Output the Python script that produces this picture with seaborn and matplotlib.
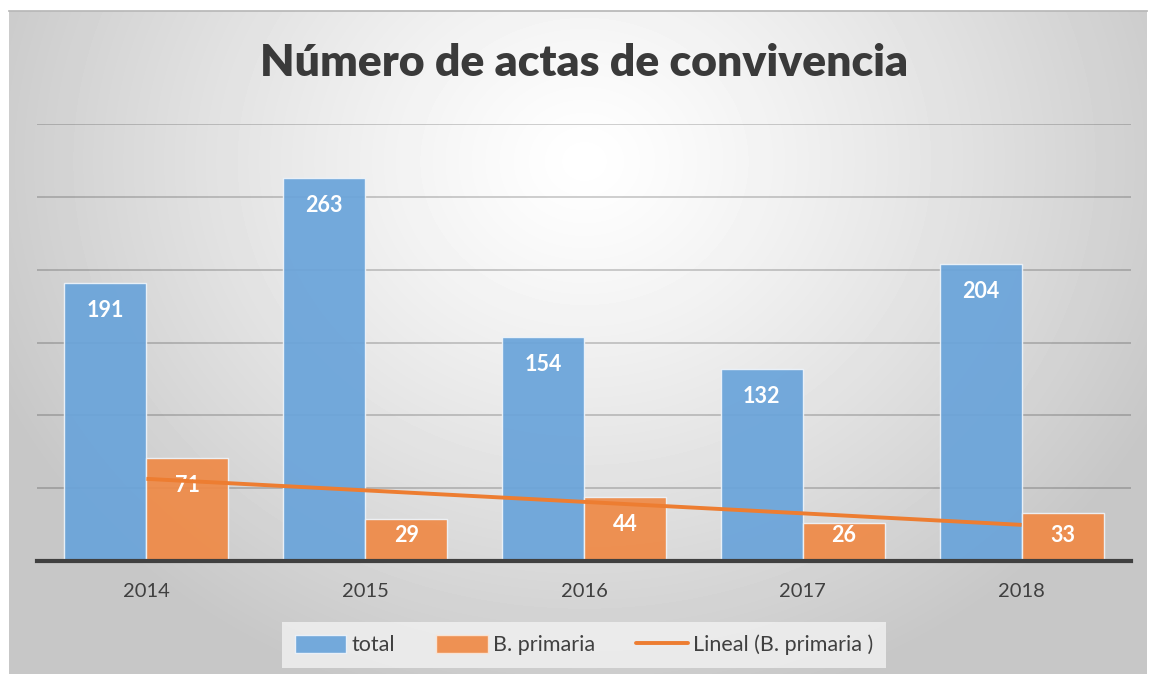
import numpy as np
import pandas as pd
import matplotlib
matplotlib.use('Agg')
import matplotlib.pyplot as plt
import seaborn as sns
from matplotlib.patches import Patch
from matplotlib.lines import Line2D

# datos
years = ['2014', '2015', '2016', '2017', '2018']
total = [191, 263, 154, 132, 204]
primaria = [71, 29, 44, 26, 33]

df = pd.DataFrame({
    'year': years * 2,
    'value': total + primaria,
    'serie': ['total'] * len(years) + ['B. primaria'] * len(years),
})

sns.set_theme(style='white')
plt.rcParams['font.family'] = ['Lato', 'DejaVu Sans']

W, H = 1154, 679
fig = plt.figure(figsize=(W / 100, H / 100), dpi=100)
fig.patch.set_facecolor('white')

# fondo con degradado radial (estilo Excel)
bg = fig.add_axes([9 / W, 5 / H, 1138 / W, 663 / H])
yy, xx = np.mgrid[0:663, 0:1138]
r = np.sqrt(((xx - 575) / 640.0) ** 2 + ((yy - 150) / 560.0) ** 2)
shade = 1.0 - 0.22 * np.clip(r, 0, 1) ** 1.2
bg.imshow(shade, cmap='gray', vmin=0, vmax=1, aspect='auto', interpolation='bilinear')
bg.set_xticks([])
bg.set_yticks([])
for s in bg.spines.values():
    s.set_visible(False)
bg.spines['top'].set_visible(True)
bg.spines['top'].set_color('#b8b8b8')
bg.set_zorder(0)

ax = fig.add_axes([37 / W, (H - 561) / H, 1094 / W, 437 / H])
ax.set_zorder(1)
ax.patch.set_alpha(0)

blue = '#6aa4da'
orange = '#ef8a47'
sns.barplot(data=df, x='year', y='value', hue='serie', palette=[blue, orange],
            saturation=1, width=0.75, gap=0, alpha=0.93, edgecolor='#eef4fa', linewidth=1,
            ax=ax, legend=False, zorder=2)

ax.set_ylim(0, 300)
ax.set_xlim(-0.5, 4.5)
ax.set_yticks(range(0, 301, 50))
ax.yaxis.grid(True, color='black', alpha=0.2, linewidth=1.3, zorder=0)
ax.set_axisbelow(True)
ax.tick_params(axis='y', left=False, labelleft=False)
ax.tick_params(axis='x', bottom=False, labelsize=14.5, labelcolor='#404040', pad=10)
ax.set_xlabel('')
ax.set_ylabel('')
for s in ['top', 'right', 'left']:
    ax.spines[s].set_visible(False)
ax.spines['bottom'].set_color('#404040')
ax.spines['bottom'].set_linewidth(3)

# etiquetas de datos
for p in ax.patches:
    v = p.get_height()
    if v <= 0:
        continue
    y = max(v - 19, 17.8)
    ax.text(p.get_x() + p.get_width() / 2, y, f'{v:.0f}', ha='center', va='center',
            color='white', fontsize=15.5, fontweight='bold', zorder=3)

# línea de tendencia lineal de B. primaria
xpos = np.arange(len(years))
coef = np.polyfit(xpos, primaria, 1)
ax.plot(xpos, np.polyval(coef, xpos), color='#ED7D31', linewidth=2.8, zorder=4,
        solid_capstyle='butt')

fig.text(584 / W, 1 - 63 / H, 'Número de actas de convivencia', ha='center', va='center',
         fontsize=32, fontweight='heavy', color='#3a3a3a')

handles = [Patch(facecolor=blue, edgecolor='#eef4fa', alpha=0.93),
           Patch(facecolor=orange, edgecolor='#fae6d8', alpha=0.93),
           Line2D([0], [0], color='#ED7D31', linewidth=2.8)]
labels = ['total', 'B. primaria', 'Lineal (B. primaria )']
leg = fig.legend(handles, labels, loc='center', bbox_to_anchor=(584 / W, 1 - 645 / H),
                 ncol=3, frameon=True, fontsize=15.5, handlelength=2.4, handleheight=0.9,
                 columnspacing=1.9, handletextpad=0.25, borderpad=0.6)
leg.get_frame().set_facecolor('#f2f2f2')
leg.get_frame().set_edgecolor('none')
leg.get_frame().set_boxstyle('square', pad=0)
for t in leg.get_texts():
    t.set_color('#404040')

fig.savefig('out.png', dpi=100)
